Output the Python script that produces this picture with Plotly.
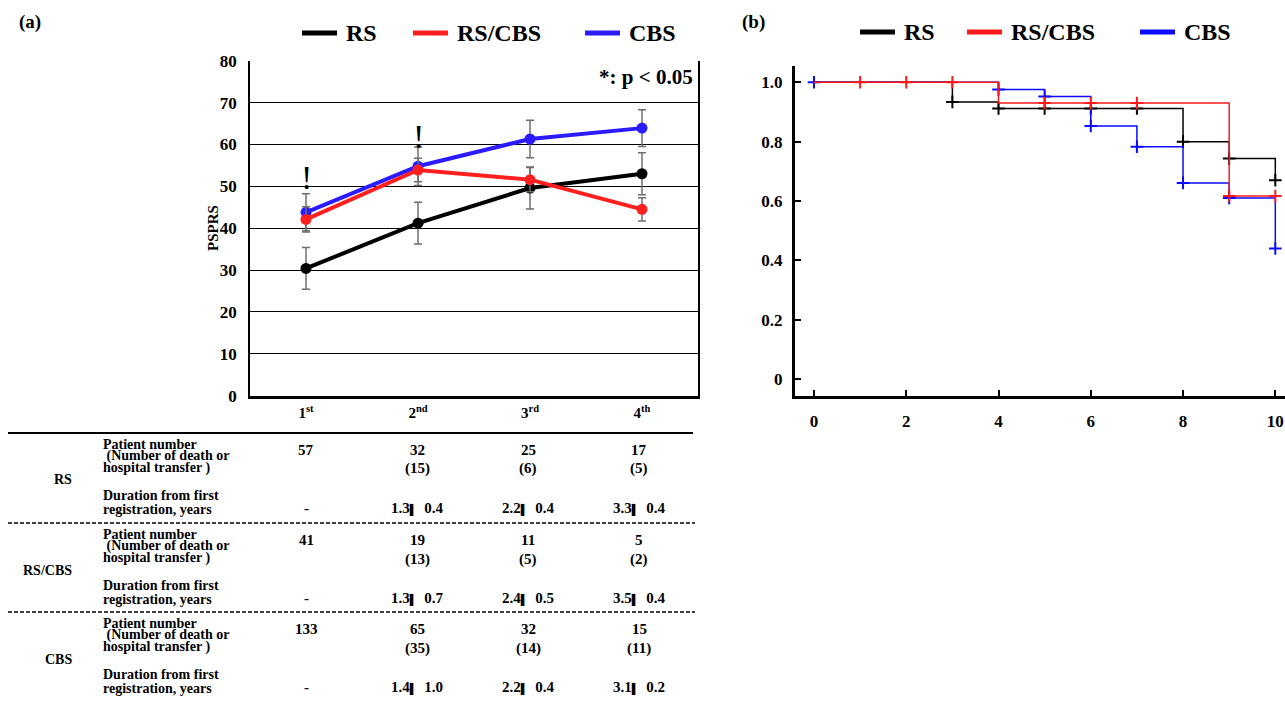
import plotly.graph_objects as go

W, H = 1285, 703
FONT = "Liberation Serif"


def px(x):
    return x / W


def py(y):
    return 1 - y / H


# ---------------- data: panel (a) ----------------
visit_labels = ["1<sup>st</sup>", "2<sup>nd</sup>", "3<sup>rd</sup>", "4<sup>th</sup>"]
psprs_rs = [30.4, 41.2, 49.6, 53.0]
psprs_rscbs = [42.1, 53.9, 51.6, 44.5]
psprs_cbs = [43.8, 54.8, 61.3, 63.9]
err_rs = [5.0, 5.0, 5.0, 5.0]
err_rscbs = [3.0, 2.8, 2.9, 2.8]
err_cbs = [4.4, 4.6, 4.5, 4.4]
sig_index = [0, 1]
sig_y = [52.0, 62.0]

# ---------------- data: panel (b) ----------------
km_time = [0, 1, 2, 3, 4, 5, 6, 7, 8, 9, 10]
km_rs = [1.0, 1.0, 1.0, 0.934, 0.912, 0.912, 0.912, 0.912, 0.80, 0.743, 0.67]
km_rscbs = [1.0, 1.0, 1.0, 1.0, 0.93, 0.93, 0.93, 0.93, 0.93, 0.617, 0.617]
km_cbs = [1.0, 1.0, 1.0, 1.0, 0.976, 0.952, 0.853, 0.783, 0.661, 0.61, 0.44]
cens_rs = [3, 4, 5, 6, 7, 8, 9, 10]
cens_rscbs = [1, 2, 3, 5, 6, 7, 9, 10]
cens_cbs = [0, 4, 5, 6, 7, 8, 9, 10]

# ---------------- data: table ----------------
groups = ["RS", "RS/CBS", "CBS"]
rs_n = ["57", "32", "25", "17"]
rs_lost = ["", "(15)", "(6)", "(5)"]
rs_dur = ["-", "1.3▌  0.4", "2.2▌  0.4", "3.3▌  0.4"]
rscbs_n = ["41", "19", "11", "5"]
rscbs_lost = ["", "(13)", "(5)", "(2)"]
rscbs_dur = ["-", "1.3▌  0.7", "2.4▌  0.5", "3.5▌  0.4"]
cbs_n = ["133", "65", "32", "15"]
cbs_lost = ["", "(35)", "(14)", "(11)"]
cbs_dur = ["-", "1.4▌  1.0", "2.2▌  0.4", "3.1▌  0.2"]
row_text = ["Patient number", " (Number of death or", "hospital transfer )",
            "Duration from first", "registration, years"]

BLACK = "#000000"
RED_A = "#ff1f1f"
BLUE_A = "#2b1cff"
RED_B = "#ff1a1a"
BLUE_B = "#0a0aff"
ERR = "#6e6e6e"

fig = go.Figure()

# panel (a) line traces
for yv, ev, col, name in [(psprs_rs, err_rs, BLACK, "RS"),
                          (psprs_cbs, err_cbs, BLUE_A, "CBS"),
                          (psprs_rscbs, err_rscbs, RED_A, "RS/CBS")]:
    fig.add_trace(go.Scatter(
        x=list(range(len(visit_labels))), y=yv, mode="lines+markers", name=name,
        line=dict(color=col, width=4), marker=dict(color=col, size=11),
        error_y=dict(type="data", array=ev, color=ERR, thickness=1.5, width=4),
        xaxis="x", yaxis="y", showlegend=False))

# panel (b) Kaplan-Meier
for surv, cens, col, name in [(km_rs, cens_rs, BLACK, "RS"),
                              (km_cbs, cens_cbs, BLUE_B, "CBS"),
                              (km_rscbs, cens_rscbs, RED_B, "RS/CBS")]:
    fig.add_trace(go.Scatter(
        x=km_time, y=surv, mode="lines", line=dict(color=col, width=1.5, shape="hv"),
        xaxis="x2", yaxis="y2", showlegend=False, name=name))
    fig.add_trace(go.Scatter(
        x=cens, y=[surv[km_time.index(t)] for t in cens], mode="markers",
        marker=dict(symbol="cross-thin", size=9, line=dict(color=col, width=2)),
        xaxis="x2", yaxis="y2", showlegend=False, name=name))

ann = []
shapes = []


def text(x, y, s, size, anchor="center", color="black", **kw):
    ann.append(dict(x=px(x), y=py(y), xref="paper", yref="paper", text=s,
                    showarrow=False, xanchor=anchor, yanchor="middle",
                    font=dict(family=FONT, size=size, color=color, weight="bold"), **kw))


# panel labels
text(17, 22, "(a)", 19, "left")
text(740, 22, "(b)", 19, "left")

# legends
for (x0, col, lab) in [(302, BLACK, "RS"), (413, RED_A, "RS/CBS"), (585, BLUE_A, "CBS")]:
    shapes.append(dict(type="line", xref="paper", yref="paper", x0=px(x0), x1=px(x0 + 35),
                       y0=py(33), y1=py(33), line=dict(color=col, width=5)))
    text(x0 + 42, 33, lab, 24, "left")
for (x0, col, lab) in [(860, BLACK, "RS"), (967, RED_B, "RS/CBS"), (1140, BLUE_B, "CBS")]:
    shapes.append(dict(type="line", xref="paper", yref="paper", x0=px(x0), x1=px(x0 + 35),
                       y0=py(32), y1=py(32), line=dict(color=col, width=5)))
    text(x0 + 42, 32, lab, 24, "left")

# p-value note & axis title
text(695, 77, "*: p &lt; 0.05", 21, "right")
text(213, 228, "PSPRS", 15, "center", textangle=-90)

# significance marks
for i, yv in zip(sig_index, sig_y):
    ann.append(dict(x=i, y=yv, xref="x", yref="y", text="!", showarrow=False,
                    xanchor="center", yanchor="middle",
                    font=dict(family=FONT, size=34, color="black", weight="normal")))

# table
col_x = [306, 417, 528, 639]
shapes.append(dict(type="line", xref="paper", yref="paper", x0=px(8), x1=px(693),
                   y0=py(433), y1=py(433), line=dict(color="black", width=2)))
for y0 in [523, 612]:
    shapes.append(dict(type="line", xref="paper", yref="paper", x0=px(8), x1=px(695),
                       y0=py(y0), y1=py(y0), line=dict(color="black", width=1.5, dash="4px,2px")))


def bar_small(s):
    return s.replace("▌", '<span style="font-size:10px">▌</span>')


blocks = [(433, groups[0], rs_n, rs_lost, rs_dur),
          (523, groups[1], rscbs_n, rscbs_lost, rscbs_dur),
          (612, groups[2], cbs_n, cbs_lost, cbs_dur)]
for top, g, n, lost, dur in blocks:
    text(74, top + 47, g, 14, "right")
    for j, off in enumerate([11, 23, 35, 62, 76]):
        text(101, top + off, row_text[j], 14, "left")
    for j in range(4):
        text(col_x[j], top + 17, n[j], 15)
        if lost[j]:
            text(col_x[j], top + 36, lost[j], 15)
        text(col_x[j], top + 75, bar_small(dur[j]), 15)

fig.update_layout(
    width=W, height=H, margin=dict(l=0, r=0, t=0, b=0, pad=0, autoexpand=False),
    paper_bgcolor="white", plot_bgcolor="white",
    font=dict(family=FONT, color="black", weight="bold"),
    annotations=ann, shapes=shapes,
    xaxis=dict(domain=[px(250), px(698)], range=[-0.5, 3.5], tickvals=list(range(4)),
               ticktext=visit_labels, showgrid=False, zeroline=False, showline=True,
               linecolor="black", linewidth=2.5, ticks="",
               tickfont=dict(family=FONT, size=15, weight="bold"), ticklabelstandoff=2),
    yaxis=dict(domain=[py(395.7), py(60.7)], range=[0, 80], dtick=10, showgrid=True,
               gridcolor="black", gridwidth=1, zeroline=False, showline=True,
               linecolor="black", linewidth=1.5, mirror=True, ticks="",
               tickfont=dict(family=FONT, size=17, weight="bold"), ticklabelstandoff=8),
    xaxis2=dict(domain=[px(794.6), 1.0], range=[-0.42, 10.21], tickvals=[0, 2, 4, 6, 8, 10],
                showgrid=False, zeroline=False, showline=True, linecolor="black", linewidth=2.5,
                ticks="inside", ticklen=6, tickwidth=1.5, tickcolor="black",
                tickfont=dict(family=FONT, size=17, weight="bold"), ticklabelstandoff=8,
                anchor="y2"),
    yaxis2=dict(domain=[py(395.7), py(66)], range=[-0.056, 1.055],
                tickvals=[0, 0.2, 0.4, 0.6, 0.8, 1.0],
                ticktext=["0", "0.2", "0.4", "0.6", "0.8", "1.0"],
                showgrid=False, zeroline=False, showline=True, linecolor="black", linewidth=2.5,
                ticks="inside", ticklen=7, tickwidth=1.5, tickcolor="black",
                tickfont=dict(family=FONT, size=17, weight="bold"), ticklabelstandoff=6,
                anchor="x2"),
)

fig.write_html("out.html", config={"displayModeBar": False},
               post_script="document.body.style.margin='0';")
